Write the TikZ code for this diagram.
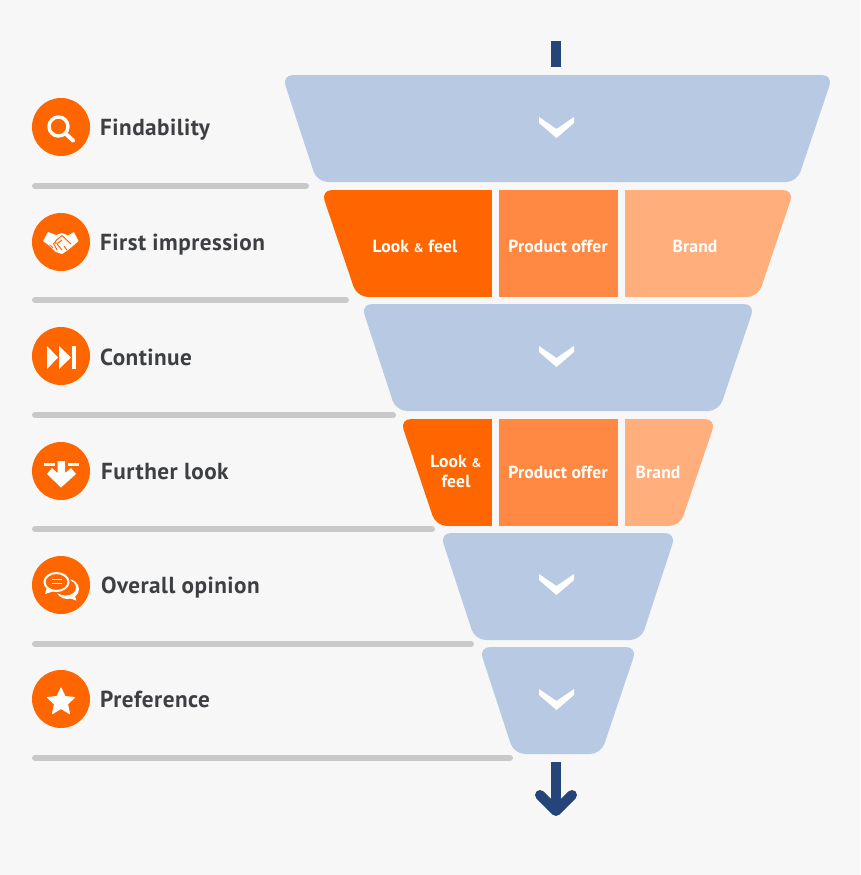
\documentclass[tikz,border=0pt]{standalone}
\usepackage{fontspec}
\setmainfont{PT Sans}
\definecolor{bg}{HTML}{F7F7F7}
\definecolor{funnelblue}{HTML}{B7C9E3}
\definecolor{navy}{HTML}{254579}
\definecolor{orangeA}{HTML}{FF6600}
\definecolor{orangeB}{HTML}{FF8942}
\definecolor{orangeC}{HTML}{FFAE7C}
\definecolor{barg}{HTML}{C9C9C9}
\definecolor{ink}{HTML}{3D3F42}
\tikzset{
  trapfill/.style={fill=funnelblue,rounded corners=11pt},
  sepbar/.style={draw=barg,line width=6pt,line cap=round},
  badge/.style={circle,fill=orangeA,minimum size=58pt,inner sep=0pt},
  lab/.style={anchor=base west,inner sep=0pt,text=ink,font=\addfontfeatures{LetterSpace=2}\fontsize{23.2}{23}\selectfont\bfseries},
  inlab/.style={text=white,inner sep=0pt,align=center,font=\addfontfeatures{LetterSpace=1}\fontsize{17.5}{20}\selectfont\bfseries},
  chev/.style={fill=white},
  ico/.style={draw=white,line width=3.4pt},
  navyline/.style={draw=navy,line width=10pt}
}
\newcommand{\amp}{{\fontsize{12.5}{12}\selectfont\&}}
\newcommand{\chevronat}[1]{\fill[chev] (539,#1-11) -- (556.5,#1+1) -- (574,#1-11) -- (574,#1-5) -- (556.5,#1+10) -- (539,#1-5) -- cycle;}
\newcommand{\trapezoid}[6]{\path[#6] (#1,#5) -- (#2,#5) -- (#3,#5+107) -- (#4,#5+107) -- cycle;}
\begin{document}
\begin{tikzpicture}[x=1pt,y=-1pt]
\useasboundingbox[fill=bg] (0,0) rectangle (860,875);
% funnel arrows
\coordinate (intop) at (556,41);
\coordinate (inend) at (556,67);
\coordinate (outtop) at (556,762);
\coordinate (outend) at (556,811);
\draw[navyline] (intop) -- (inend);
\draw[navyline] (outtop) -- (outend);
\draw[navy,line width=10pt,line cap=round,line join=round] (540,795) -- (556,811) -- (572,795);
% blue levels
\trapezoid{282}{833}{797}{317}{75}{trapfill}
\trapezoid{361}{755}{719}{396}{304}{trapfill}
\trapezoid{440}{676}{641}{475}{533}{trapfill}
\trapezoid{479}{637}{601}{514}{647}{trapfill}
\chevronat{128}\chevronat{357}\chevronat{585}\chevronat{700}
% split level 1
\begin{scope}
\clip[rounded corners=11pt] (321,190) -- (794,190) -- (758,297) -- (357,297) -- cycle;
\fill[orangeA] (300,190) rectangle (492,297);
\fill[orangeB] (498.5,190) rectangle (618,297);
\fill[orangeC] (624.5,190) rectangle (800,297);
\end{scope}
\node[inlab] (lookA) at (415,246) {Look \amp{} feel};
\node[inlab] (prodA) at (558,246) {Product offer};
\node[inlab] (brandA) at (695,246) {Brand};
% split level 2
\begin{scope}
\clip[rounded corners=11pt] (400,419) -- (716,419) -- (680,526) -- (436,526) -- cycle;
\fill[orangeA] (390,419) rectangle (492,526);
\fill[orangeB] (498.5,419) rectangle (618,526);
\fill[orangeC] (624.5,419) rectangle (720,526);
\end{scope}
\node[inlab] (lookB) at (456,471) {Look \amp\\feel};
\node[inlab] (prodB) at (558,472) {Product offer};
\node[inlab] (brandB) at (658,472) {Brand};
% separators
\draw[sepbar] (35,186) -- (306,186);
\draw[sepbar] (35,300) -- (346,300);
\draw[sepbar] (35,415) -- (393,415);
\draw[sepbar] (35,529) -- (432,529);
\draw[sepbar] (35,644) -- (471,644);
\draw[sepbar] (35,758) -- (510,758);
% badges
\node[badge] (b1) at (61,127) {};
\node[badge] (b2) at (61,242) {};
\node[badge] (b3) at (61,356) {};
\node[badge] (b4) at (61,471) {};
\node[badge] (b5) at (61,585) {};
\node[badge] (b6) at (61,699) {};
% labels
\node[lab] (l1) at (100,135) {Findability};
\node[lab] (l2) at (100,250) {First impression};
\node[lab] (l3) at (100,365) {Continue};
\node[lab] (l4) at (101,479) {Further look};
\node[lab] (l5) at (101,593) {Overall opinion};
\node[lab] (l6) at (100,707) {Preference};
% magnifier
\draw[ico] (58.5,126.5) circle (9.5pt);
\draw[white,line width=4pt,line cap=round] (65.5,133.5) -- (73,140.5);
% handshake
\fill[white,line join=round] (43,241) -- (48,232) -- (56,235) -- (62,233) -- (68,235.5) -- (74,232) -- (78.5,241) -- (74,245) -- (68,250) -- (62,254) -- (56,252) -- (49,245.5) -- cycle;
\draw[orangeA,line width=1pt,line cap=round,line join=round] (71,244) -- (62,235.5) -- (56.5,240) -- (54.5,243) -- (58,243) -- (62,240);
\draw[orangeA,line width=1pt,line cap=round] (50,245) -- (53,248) (53.5,243.5) -- (57,250) (57,244) -- (62,250) (64,246) -- (67,250);
% fast forward
\fill[white] (47,346) -- (58,357.5) -- (47,369) -- cycle;
\fill[white] (59,346) -- (71,357.5) -- (59,369) -- cycle;
\fill[white] (72,346) rectangle (75.5,369);
% download arrow
\fill[white] (44,463) rectangle (55,466);
\fill[white] (68,463) rectangle (79,466);
\fill[white] (57.5,461) -- (65,461) -- (65,473) -- (71,468) -- (76,474) -- (61,487.5) -- (47,474) -- (52,468) -- (57.5,473) -- cycle;
% speech bubbles
\fill[white] (67.5,589) ellipse (11.5pt and 10pt);
\fill[white] (62,596) -- (76.5,600.5) -- (73,590) -- cycle;
\fill[orangeA] (65.5,587.5) ellipse (10.5pt and 8pt);
\fill[orangeA] (56.5,582) ellipse (14.5pt and 11.5pt);
\draw[white,line width=2pt,fill=orangeA] (56.5,582) ellipse (12pt and 9pt);
\fill[white] (47,587) -- (45,594) -- (54,591) -- cycle;
\draw[white,line width=1pt] (51.5,579.5) -- (61.5,579.5) (51.5,583) -- (61.5,583);
% star
\fill[white,draw=white,line width=1pt,line join=round] (61,688) -- (65,696.5) -- (74.5,697.5) -- (67.5,704) -- (69.5,713.5) -- (61,708.5) -- (52.5,713.5) -- (54.5,704) -- (47.5,697.5) -- (57,696.5) -- cycle;
\end{tikzpicture}
\end{document}
